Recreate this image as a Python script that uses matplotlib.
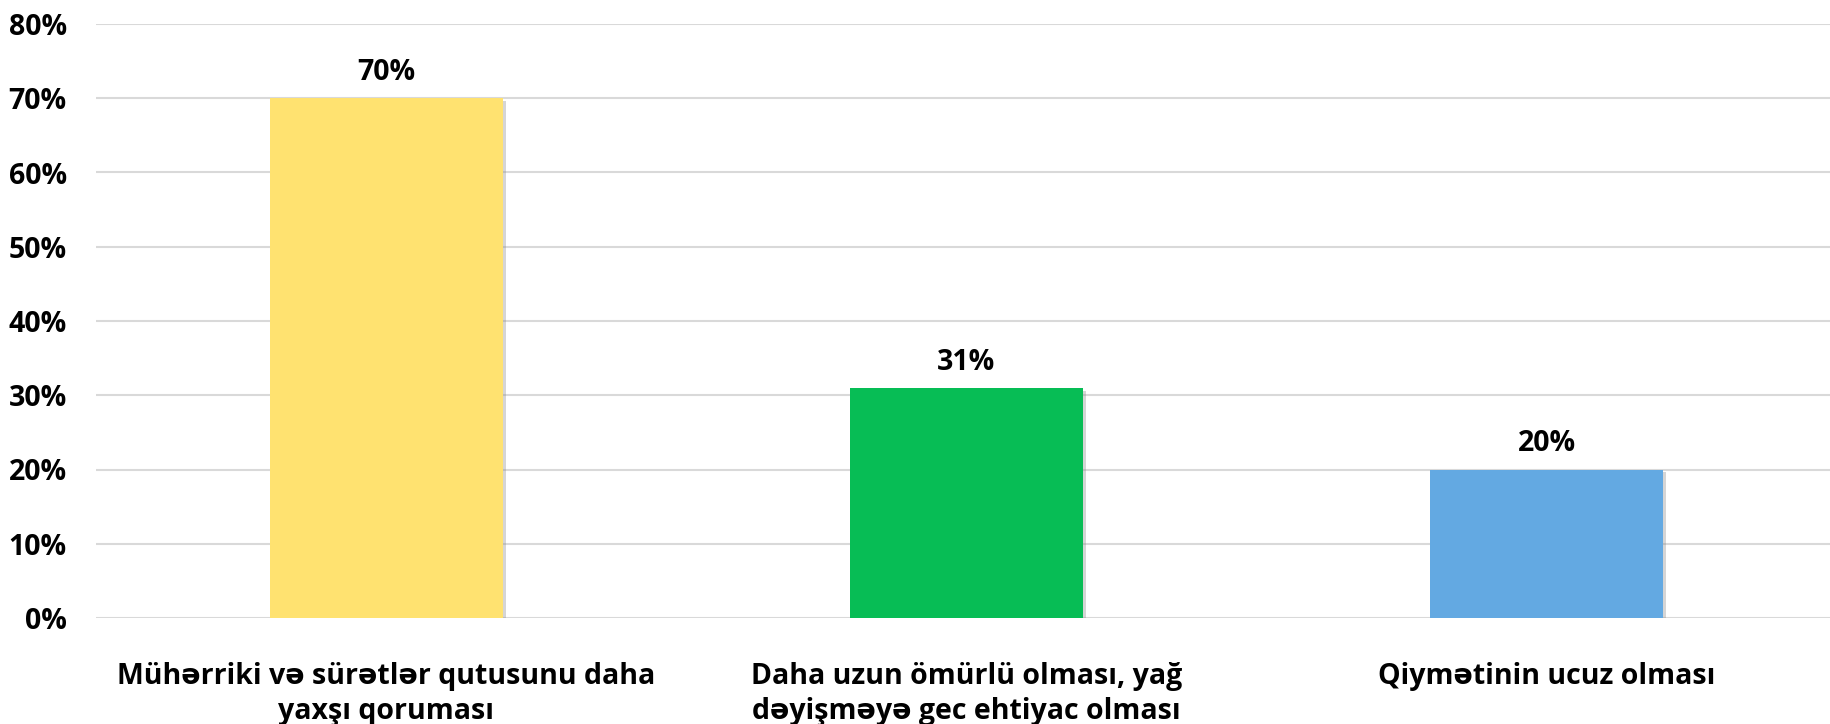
import matplotlib
matplotlib.use("Agg")
import matplotlib.pyplot as plt
import matplotlib.patheffects as pe
from matplotlib.ticker import FuncFormatter

categories = ["Mühərriki və sürətlər qutusunu daha\nyaxşı qoruması",
              "Daha uzun ömürlü olması, yağ\ndəyişməyə gec ehtiyac olması",
              "Qiymətinin ucuz olması"]
values = [70, 31, 20]
value_labels = ["70%", "31%", "20%"]
colors = ["#FFE270", "#07BD55", "#63A9E2"]
yticks = [0, 10, 20, 30, 40, 50, 60, 70, 80]

plt.rcParams['font.family'] = ['Open Sans', 'DejaVu Sans']
FS = 20.5

fig = plt.figure(figsize=(18.31, 7.24), dpi=100)
ax = fig.add_axes([96/1831, 106/724, 1 - 96/1831, (700-106)/724])

x = list(range(len(categories)))
bars = ax.bar(x, values, width=0.402, color=colors, zorder=3)
for b in bars:
    b.set_path_effects([pe.SimplePatchShadow(offset=(2, -2), shadow_rgbFace='#888888', alpha=0.35),
                        pe.Normal()])

for xi, v, lab in zip(x, values, value_labels):
    ax.annotate(lab, (xi, v), xytext=(0, 18.5), textcoords='offset points',
                ha='center', va='center', fontsize=FS, fontweight='bold', color='black')

ax.set_ylim(0, 80)
ax.set_xlim(-0.5, 2.49)
ax.set_yticks(yticks)
ax.yaxis.set_major_formatter(FuncFormatter(lambda v, p: f"{int(v)}%"))
ax.set_xticks(x)
ax.set_xticklabels(categories, fontsize=FS, fontweight='bold', linespacing=1.27)
for t in ax.get_yticklabels():
    t.set_fontsize(FS)
    t.set_fontweight('bold')
ax.tick_params(axis='both', length=0)
ax.tick_params(axis='y', pad=21)
ax.tick_params(axis='x', pad=32)
ax.grid(axis='y', color='#D9D9D9', linewidth=1.5, zorder=0)
ax.set_axisbelow(True)
for s in ax.spines.values():
    s.set_visible(False)

fig.savefig("out.png", dpi=100)
